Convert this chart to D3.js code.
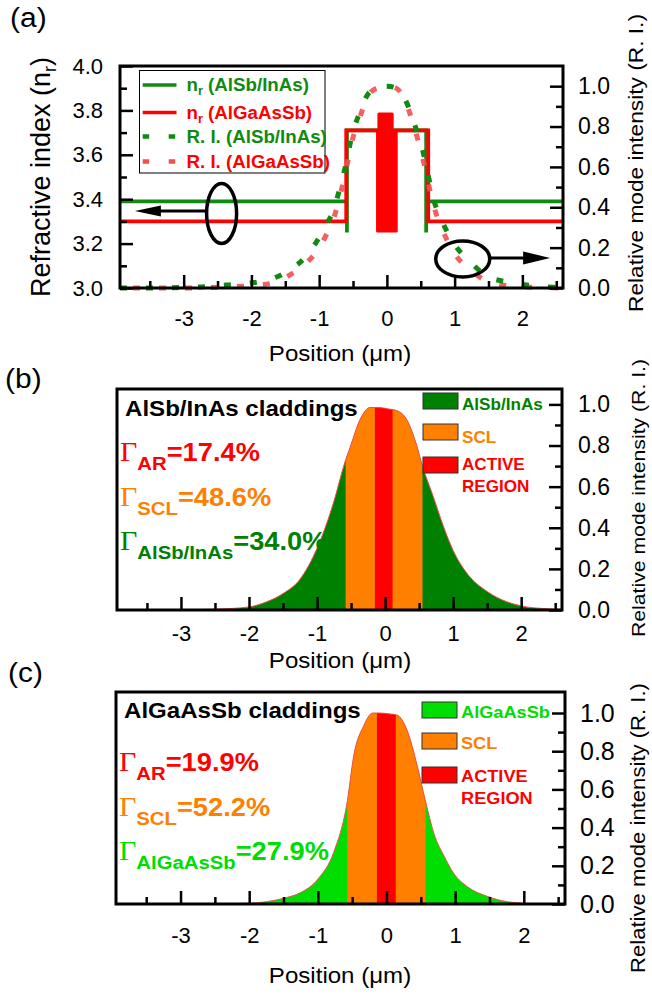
<!DOCTYPE html>
<html>
<head>
<meta charset="utf-8">
<script src="https://cdn.jsdelivr.net/npm/d3@7"></script>
<style>
body { margin: 0; background: #fff; }
svg { display: block; }
text { font-family: "Liberation Sans", Arial, sans-serif; }
</style>
</head>
<body>
<svg width="652" height="994"></svg>
<script>
// ---- data (positions in micrometres) ----
const xDomain = [-3.94, 2.6];
const xMajor = [-3, -2, -1, 0, 1, 2];
const xMinor = [-3.5, -2.5, -1.5, -0.5, 0.5, 1.5, 2.5];

const nrMajor = [3.0, 3.2, 3.4, 3.6, 3.8, 4.0];
const nrMinor = [3.1, 3.3, 3.5, 3.7, 3.9];
const riMajor = [0.0, 0.2, 0.4, 0.6, 0.8, 1.0];
const riMinor = [0.1, 0.3, 0.5, 0.7, 0.9];

// (a) refractive index profiles
const nrGreenPos = [-3.94, -0.59, -0.59, -0.59, 0.58, 0.58, 0.58, 2.6];
const nrGreenVal = [3.39, 3.39, 3.25, 3.71, 3.71, 3.25, 3.39, 3.39];
const nrRedPos = [-3.94, -0.6, -0.6, 0.61, 0.61, 2.6];
const nrRedVal = [3.30, 3.30, 3.71, 3.71, 3.30, 3.30];
// active region blocks [x0, x1, n0, n1]
const arBlocks = [[-0.16, 0.16, 3.25, 3.71], [-0.14, 0.10, 3.71, 3.79]];

// (a) relative mode intensity
const posA = [-3.94, -3.5, -3.0, -2.7, -2.37, -2.0, -1.68, -1.43, -1.2, -1.0, -0.9, -0.79, -0.69, -0.6, -0.52, -0.4, -0.28, -0.15, 0.0, 0.14, 0.29, 0.41, 0.56, 0.68, 0.83, 1.0, 1.23, 1.47, 1.77, 2.06, 2.45, 2.6];
const riGreenA = [0.0, 0.0, 0.003, 0.006, 0.015, 0.025, 0.048, 0.09, 0.155, 0.25, 0.31, 0.385, 0.5, 0.62, 0.75, 0.87, 0.96, 0.99, 1.0, 0.99, 0.92, 0.81, 0.64, 0.45, 0.32, 0.215, 0.13, 0.06, 0.03, 0.015, 0.004, 0.002];
const riRedA = [0.0, 0.0, 0.0, 0.002, 0.005, 0.012, 0.025, 0.065, 0.12, 0.2, 0.26, 0.34, 0.46, 0.59, 0.72, 0.845, 0.95, 0.99, 1.0, 0.99, 0.91, 0.79, 0.6, 0.42, 0.28, 0.17, 0.09, 0.035, 0.012, 0.005, 0.001, 0.0];

// (b) AlSb/InAs claddings
const posB = [-3.94, -3.0, -2.5, -2.0, -1.74, -1.5, -1.25, -1.0, -0.76, -0.59, -0.51, -0.37, -0.22, -0.1, 0.05, 0.17, 0.32, 0.47, 0.55, 0.71, 0.86, 1.0, 1.2, 1.5, 1.79, 2.0, 2.38, 2.6];
const riB = [0.0, 0.001, 0.004, 0.015, 0.04, 0.08, 0.15, 0.30, 0.52, 0.72, 0.795, 0.925, 0.985, 0.985, 0.978, 0.97, 0.925, 0.795, 0.70, 0.55, 0.405, 0.29, 0.18, 0.09, 0.04, 0.02, 0.006, 0.003];
const sclB = [-0.58, 0.55];
const arB = [-0.15, 0.11];
const gammaB = ["=17.4%", "=48.6%", "=34.0%"];

// (c) AlGaAsSb claddings
const posC = [-3.94, -3.0, -2.5, -2.0, -1.75, -1.5, -1.25, -1.0, -0.77, -0.57, -0.48, -0.33, -0.2, -0.1, 0.05, 0.15, 0.3, 0.45, 0.57, 0.69, 0.84, 0.98, 1.18, 1.47, 1.76, 2.0, 2.3, 2.6];
const riC = [0.0, 0.0, 0.001, 0.004, 0.012, 0.03, 0.06, 0.13, 0.27, 0.54, 0.77, 0.935, 1.0, 1.0, 0.995, 0.99, 0.91, 0.72, 0.535, 0.37, 0.25, 0.16, 0.09, 0.04, 0.012, 0.004, 0.001, 0.0];
const sclC = [-0.57, 0.57];
const arC = [-0.14, 0.135];
const gammaC = ["=19.9%", "=52.2%", "=27.9%"];

// ---- colours ----
const GREEN = "#108a10";
const DKGREEN = "#008000";
const LTGREEN = "#00dd00";
const RED = "#ff0000";
const PINK = "#f05050";
const ORANGE = "#ff8000";
const SX = 1.07;

const svg = d3.select("svg");
const zip = (a, b) => a.map((v, i) => [v, b[i]]);

function label(g, x, y, anchor, parts) {
    const t = g.append("text")
        .attr("transform", `translate(${x},${y}) scale(${SX},1)`)
        .attr("text-anchor", anchor);
    parts.forEach(p => {
        t.append("tspan").text(p.t)
            .attr("font-size", p.size)
            .attr("font-weight", p.bold ? "bold" : "normal")
            .attr("fill", p.fill || "#000")
            .attr("font-family", p.family || null)
            .attr("dy", p.dy || 0);
    });
    return t;
}

function vlabel(x, y, text, size, len) {
    return svg.append("text")
        .attr("transform", `translate(${x},${y}) rotate(-90)`)
        .attr("text-anchor", "middle")
        .attr("font-size", size)
        .attr("textLength", len)
        .attr("lengthAdjust", "spacingAndGlyphs")
        .text(text);
}

function styleAxis(sel, size) {
    sel.select(".domain").remove();
    sel.selectAll("line").attr("stroke", "#000").attr("stroke-width", 2.5);
    sel.selectAll("text").attr("font-size", size).attr("font-family", null).attr("fill", "#000");
}

function panel(box, riMax) {
    const w = box.right - box.left, h = box.bottom - box.top;
    const g = svg.append("g").attr("transform", `translate(${box.left},${box.top})`);
    const x = d3.scaleLinear().domain(xDomain).range([0, w]);
    const yr = d3.scaleLinear().domain([0, riMax]).range([h, 0]);
    return {g, w, h, x, yr};
}

function axes(p, opts) {
    const {g, w, h, x, yr} = p;
    const front = g.append("g");
    const bx = front.append("g").attr("transform", `translate(0,${h})`)
        .call(d3.axisBottom(x).tickValues(xMajor).tickSize(-13).tickSizeOuter(0)
            .tickPadding(opts.xPad).tickFormat(d => String(d)));
    styleAxis(bx, opts.tickSize);
    bx.selectAll("text").attr("dy", "0.72em");
    const bm = front.append("g").attr("transform", `translate(0,${h})`)
        .call(d3.axisBottom(x).tickValues(xMinor).tickSize(-7).tickSizeOuter(0).tickFormat(""));
    styleAxis(bm, 0);

    const ra = front.append("g").attr("transform", `translate(${w},0)`)
        .call(d3.axisRight(yr).tickValues(riMajor).tickSize(-13).tickSizeOuter(0)
            .tickPadding(opts.rPad).tickFormat(d3.format(".1f")));
    styleAxis(ra, opts.rSize);
    const rm = front.append("g").attr("transform", `translate(${w},0)`)
        .call(d3.axisRight(yr).tickValues(riMinor).tickSize(-7).tickSizeOuter(0).tickFormat(""));
    styleAxis(rm, 0);

    front.append("rect").attr("width", w).attr("height", h)
        .attr("fill", "none").attr("stroke", "#000").attr("stroke-width", 3);
    return front;
}

// ================= panel (a) =================
const A = panel({left: 120, top: 66, right: 563, bottom: 288}, 1.1);
const yn = d3.scaleLinear().domain([3.0, 4.0]).range([A.h, 0]);

const stepLine = d3.line().x(d => A.x(d[0])).y(d => yn(d[1]));
A.g.append("path").datum(zip(nrGreenPos, nrGreenVal)).attr("d", stepLine)
    .attr("fill", "none").attr("stroke", GREEN).attr("stroke-width", 3.8);
A.g.append("path").datum(zip(nrRedPos, nrRedVal)).attr("d", stepLine)
    .attr("fill", "none").attr("stroke", RED).attr("stroke-width", 3.8);
A.g.selectAll("rect.ar").data(arBlocks).enter().append("rect")
    .attr("x", d => A.x(d[0])).attr("width", d => A.x(d[1]) - A.x(d[0]))
    .attr("y", d => yn(d[3])).attr("height", d => yn(d[2]) - yn(d[3]))
    .attr("fill", RED).attr("rx", 1.5);

const riLineA = d3.line().x(d => A.x(d[0])).y(d => A.yr(d[1])).curve(d3.curveMonotoneX);
A.g.append("path").datum(zip(posA, riRedA)).attr("d", riLineA)
    .attr("fill", "none").attr("stroke", PINK).attr("stroke-opacity", 0.9)
    .attr("stroke-width", 5).attr("stroke-dasharray", "7,19").attr("stroke-dashoffset", 13);
A.g.append("path").datum(zip(posA, riGreenA)).attr("d", riLineA)
    .attr("fill", "none").attr("stroke", GREEN)
    .attr("stroke-width", 5).attr("stroke-dasharray", "7,19");

// left axis (a)
const la = A.g.append("g")
    .call(d3.axisLeft(yn).tickValues(nrMajor).tickSize(-13).tickSizeOuter(0)
        .tickPadding(17).tickFormat(d3.format(".1f")));
styleAxis(la, 22);
const lm = A.g.append("g")
    .call(d3.axisLeft(yn).tickValues(nrMinor).tickSize(-7).tickSizeOuter(0).tickFormat(""));
styleAxis(lm, 0);
axes(A, {xPad: 22, tickSize: 22, rPad: 15, rSize: 23});

// legend (a)
const lg = A.g.append("g");
lg.append("rect").attr("x", 19.5).attr("y", 4.5).attr("width", 185.5).attr("height", 102.5)
    .attr("fill", "#fff").attr("stroke", "#000").attr("stroke-width", 1);
const legA = [
    {name: "n", sub: "r", rest: " (AlSb/InAs)", color: GREEN, dash: null},
    {name: "n", sub: "r", rest: " (AlGaAsSb)", color: RED, dash: null},
    {name: "R. I. (AlSb/InAs)", sub: "", rest: "", color: GREEN, dash: "6.5,19.5"},
    {name: "R. I. (AlGaAsSb)", sub: "", rest: "", color: PINK, dash: "6.5,19.5"}
];
const legRowY = [19, 46.5, 70.5, 95.5];
legA.forEach((d, i) => {
    lg.append("line").attr("x1", 22.7).attr("x2", 56.5)
        .attr("y1", legRowY[i]).attr("y2", legRowY[i])
        .attr("stroke", d.color).attr("stroke-width", i < 2 ? 3.5 : 4.5)
        .attr("stroke-dasharray", d.dash);
    const tc = i === 3 ? RED : d.color;
    const parts = [{t: d.name, size: 17.5, bold: true, fill: tc}];
    if (d.sub) {
        parts.push({t: d.sub, size: 12, bold: true, fill: tc, dy: 4});
        parts.push({t: d.rest, size: 17.5, bold: true, fill: tc, dy: -4});
    }
    label(lg, 66.5, legRowY[i] + 6, "start", parts);
});

// annotations (a): ellipses with arrows
const ann = A.g.append("g").attr("stroke", "#000").attr("fill", "none").attr("stroke-width", 3.5);
ann.append("ellipse").attr("cx", A.x(-2.44)).attr("cy", yn(3.336)).attr("rx", 15).attr("ry", 30);
ann.append("line").attr("x1", A.x(-2.44) - 14).attr("x2", A.x(-3.72) + 24)
    .attr("y1", yn(3.347)).attr("y2", yn(3.347)).attr("stroke-width", 3);
A.g.append("path")
    .attr("d", `M${A.x(-3.72)},${yn(3.347)} l26,-5.5 l0,11 z`).attr("fill", "#000");
ann.append("ellipse").attr("cx", A.x(1.12)).attr("cy", A.yr(0.144)).attr("rx", 27).attr("ry", 18);
ann.append("line").attr("x1", A.x(1.12) + 27).attr("x2", A.x(2.41) - 26)
    .attr("y1", A.yr(0.149)).attr("y2", A.yr(0.149)).attr("stroke-width", 3);
A.g.append("path")
    .attr("d", `M${A.x(2.41)},${A.yr(0.149)} l-27,-6.5 l0,13 z`).attr("fill", "#000");

label(svg, 10, 27, "start", [{t: "(a)", size: 28}]);
label(svg, 340, 361, "middle", [{t: "Position (\u03bcm)", size: 22.5}]);
const yl = svg.append("text")
    .attr("transform", "translate(50,177) rotate(-90)")
    .attr("text-anchor", "middle").attr("font-size", 27);
yl.append("tspan").text("Refractive index (n");
yl.append("tspan").text("r").attr("font-size", 18).attr("dy", 6);
yl.append("tspan").text(")").attr("dy", -6);
vlabel(643, 163, "Relative mode intensity (R. I.)", 20, 298);

// ================= panels (b) & (c) =================
function fillPanel(box, riMax, pos, ri, scl, ar, cladColor, cladName, title, gammas, o) {
    const P = panel(box, riMax);
    const data = zip(pos, ri);
    const area = d3.area().x(d => P.x(d[0])).y0(P.h).y1(d => P.yr(d[1])).curve(d3.curveMonotoneX);
    const line = d3.line().x(d => P.x(d[0])).y(d => P.yr(d[1])).curve(d3.curveMonotoneX);
    const id = o.id;
    const regions = [
        {key: "scl", range: scl, color: ORANGE},
        {key: "ar", range: ar, color: RED}
    ];
    P.g.append("path").datum(data).attr("d", area).attr("fill", cladColor);
    regions.forEach(r => {
        P.g.append("clipPath").attr("id", id + r.key).append("rect")
            .attr("x", P.x(r.range[0])).attr("width", P.x(r.range[1]) - P.x(r.range[0]))
            .attr("y", 0).attr("height", P.h);
        P.g.append("path").datum(data).attr("d", area).attr("fill", r.color)
            .attr("clip-path", `url(#${id + r.key})`);
    });
    P.g.append("path").datum(data).attr("d", line)
        .attr("fill", "none").attr("stroke", PINK).attr("stroke-width", 1);

    axes(P, {xPad: o.xPad, tickSize: 22, rPad: o.rPad, rSize: o.rSize});

    // legend swatches
    const legItems = [
        {color: cladColor, lines: [cladName], tc: cladColor},
        {color: ORANGE, lines: ["SCL"], tc: ORANGE},
        {color: RED, lines: ["ACTIVE", "REGION"], tc: RED}
    ];
    legItems.forEach((d, i) => {
        P.g.append("rect").attr("x", o.swX - box.left).attr("y", o.swY[i] - box.top)
            .attr("width", 35).attr("height", 16)
            .attr("fill", d.color).attr("stroke", "#333").attr("stroke-width", 1);
        d.lines.forEach((t, j) => {
            label(P.g, o.swX + 39 - box.left, o.txY[i] + j * 22 - box.top, "start",
                [{t: t, size: o.legSize, bold: true, fill: d.tc}]);
        });
    });

    label(svg, box.left + 8, o.titleY, "start", [{t: title, size: 22.5, bold: true}]);
    const gSub = ["AR", "SCL", cladName];
    const gCol = [RED, ORANGE, cladColor];
    gammas.forEach((v, i) => {
        label(svg, box.left + 3, o.gammaY[i], "start", [
            {t: "\u0393", size: 28, fill: gCol[i], family: "Liberation Serif, serif"},
            {t: gSub[i], size: 19, bold: true, fill: gCol[i], dy: 9},
            {t: v, size: 25.5, bold: true, fill: gCol[i], dy: -9}
        ]);
    });
    return P;
}

fillPanel({left: 117, top: 389, right: 562, bottom: 610}, 1.075, posB, riB, sclB, arB,
    DKGREEN, "AlSb/InAs", "AlSb/InAs claddings", gammaB,
    {id: "b", xPad: 15, rPad: 16, rSize: 23, swX: 423, swY: [393, 424, 457],
     txY: [409.5, 443, 470], legSize: 16, titleY: 416, gammaY: [461, 506, 550]});
label(svg, 5, 388, "start", [{t: "(b)", size: 28}]);
label(svg, 340, 668, "middle", [{t: "Position (\u03bcm)", size: 22.5}]);
vlabel(645, 498, "Relative mode intensity (R. I.)", 19, 278);

fillPanel({left: 116, top: 692, right: 565, bottom: 904}, 1.11, posC, riC, sclC, arC,
    LTGREEN, "AlGaAsSb", "AlGaAsSb claddings", gammaC,
    {id: "c", xPad: 23, rPad: 15, rSize: 25, swX: 422, swY: [702, 733, 767],
     txY: [718, 749, 781.5], legSize: 17, titleY: 718, gammaY: [771, 816, 860]});
label(svg, 8, 682, "start", [{t: "(c)", size: 28}]);
label(svg, 340, 983, "middle", [{t: "Position (\u03bcm)", size: 22.5}]);
vlabel(645, 828, "Relative mode intensity (R. I.)", 20, 290);
</script>
</body>
</html>
